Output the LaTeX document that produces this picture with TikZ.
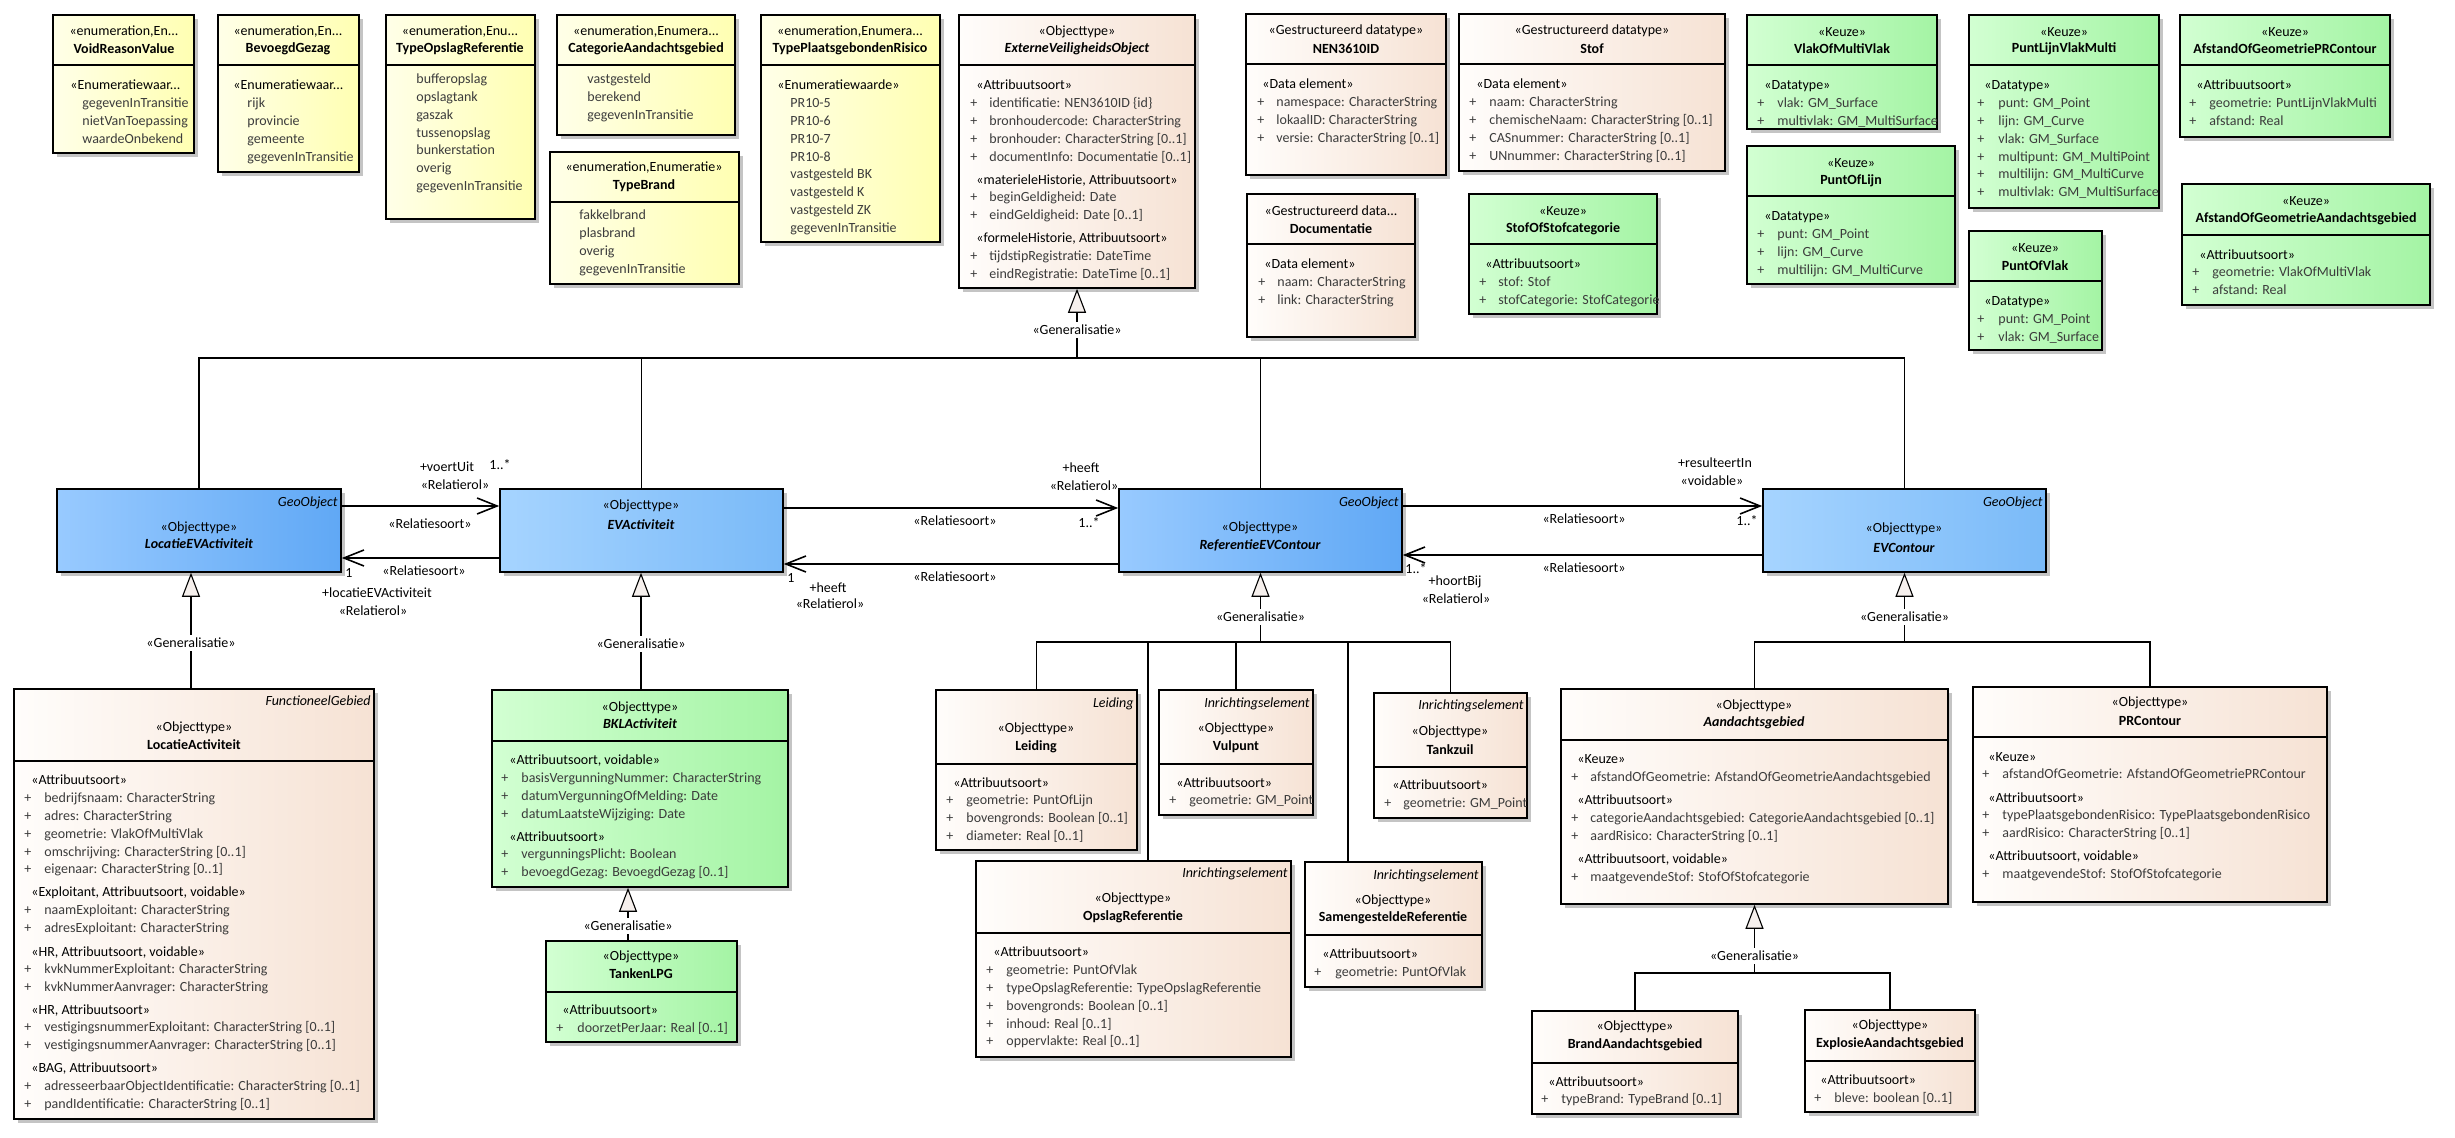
\documentclass[tikz,border=0pt]{standalone}
\usepackage{fontspec}
\setmainfont{Carlito}
\usetikzlibrary{arrows.meta,fit,shadows}
\definecolor{enumL}{RGB}{255,255,232}
\definecolor{enumR}{RGB}{255,255,178}
\definecolor{dataL}{RGB}{255,253,251}
\definecolor{dataR}{RGB}{246,226,212}
\definecolor{keuzeL}{RGB}{210,255,210}
\definecolor{keuzeR}{RGB}{164,244,164}
\definecolor{geoL}{RGB}{152,202,255}
\definecolor{geoR}{RGB}{96,168,245}
\definecolor{geoliteL}{RGB}{166,212,255}
\definecolor{geoliteR}{RGB}{122,186,248}
\definecolor{shadowgray}{RGB}{196,196,196}
\definecolor{genfill}{RGB}{246,240,237}
\definecolor{attrgray}{RGB}{60,60,60}

% box with header and body compartment: name, x1, y1, x2, y2, divider y, style
\newcommand{\classbox}[7]{%
  \node[#7, fit={(#2,#3) (#4,#5)}] (#1) {};
  \draw[divline] (#1.west |- #2,#6) -- (#1.east |- #2,#6);}
% attributes with a plus: name, x of +, x of text, first y, list
\newcommand{\attrs}[5]{%
  \foreach \m [count=\k from 0] in {#5}{
    \node[attr, anchor=mid west] (#1p\k) at (#2,#4+17.8*\k) {+};
    \node[attr, anchor=mid west] (#1t\k) at (#3,#4+17.8*\k) {\m};
  }}
% enumeration values: name, x, first y, list
\newcommand{\items}[4]{%
  \foreach \m [count=\k from 0] in {#4}
    \node[attr, anchor=mid west] (#1i\k) at (#2,#3+17.8*\k) {\m};}

\begin{document}
\begin{tikzpicture}[x=0.5pt, y=-0.5pt,
    box/.style={draw=black, line width=0.8pt, inner sep=0pt,
      drop shadow={shadow xshift=1.8pt, shadow yshift=-1.8pt, fill=shadowgray, opacity=1}},
    enumbox/.style={box, left color=enumL, right color=enumR},
    databox/.style={box, left color=dataL, right color=dataR},
    keuzebox/.style={box, left color=keuzeL, right color=keuzeR},
    geobox/.style={box, left color=geoL, right color=geoR},
    geolight/.style={box, left color=geoliteL, right color=geoliteR},
    divline/.style={line width=0.8pt},
    txt/.style={inner sep=0pt, font={\fontsize{7}{8}\selectfont}},
    stereo/.style={txt},
    attr/.style={txt, text=attrgray},
    cname/.style={txt, font={\fontsize{7}{8}\selectfont\bfseries}},
    aname/.style={txt, font={\fontsize{7}{8}\selectfont\bfseries\itshape}},
    corner/.style={txt, font={\fontsize{7}{8}\selectfont\itshape}, anchor=mid east},
    lbl/.style={txt},
    genlabel/.style={txt, fill=white, inner sep=1.5pt},
    genline/.style={line width=0.55pt},
    gen/.style={genline, -{Triangle[length=12pt, width=9pt, fill=genfill]}},
    assoc/.style={line width=0.8pt, -{Straight Barb[length=10pt, width=8pt]}}]
  \fill[white] (0,0) rectangle (2455,1138);
  \useasboundingbox (0,0) rectangle (2455,1138);

  % enumerations
  \classbox{voidreason}{53}{15}{194}{153}{65}{enumbox}
  \node[stereo] (voidreason-st) at (124,32) {«enumeration,En...};
  \node[cname] (voidreason-nm) at (124,49) {VoidReasonValue};
  \node[stereo, anchor=mid west] (voidreason-hd) at (70,85) {«Enumeratiewaar...};
  \items{voidreason}{82}{103}{gegevenInTransitie,nietVanToepassing,waardeOnbekend}

  \classbox{bevoegd}{218}{15}{359}{172}{65}{enumbox}
  \node[stereo] (bevoegd-st) at (288,32) {«enumeration,En...};
  \node[cname] (bevoegd-nm) at (288,49) {BevoegdGezag};
  \node[stereo, anchor=mid west] (bevoegd-hd) at (233,85) {«Enumeratiewaar...};
  \items{bevoegd}{247}{103}{rijk,provincie,gemeente,gegevenInTransitie}

  \classbox{typeopslag}{386}{15}{535}{219}{65}{enumbox}
  \node[stereo] (typeopslag-st) at (460,32) {«enumeration,Enu...};
  \node[cname] (typeopslag-nm) at (460,49) {TypeOpslagReferentie};
  \items{typeopslag}{416}{79}{bufferopslag,opslagtank,gaszak,tussenopslag,bunkerstation,overig,gegevenInTransitie}

  \classbox{catag}{557}{15}{735}{135}{65}{enumbox}
  \node[stereo] (catag-st) at (646,32) {«enumeration,Enumera...};
  \node[cname] (catag-nm) at (646,49) {CategorieAandachtsgebied};
  \items{catag}{587}{79}{vastgesteld,berekend,gegevenInTransitie}

  \classbox{typebrand}{550}{152}{739}{284}{202}{enumbox}
  \node[stereo] (typebrand-st) at (644,168) {«enumeration,Enumeratie»};
  \node[cname] (typebrand-nm) at (644,186) {TypeBrand};
  \items{typebrand}{579}{215}{fakkelbrand,plasbrand,overig,gegevenInTransitie}

  \classbox{typepr}{761}{15}{940}{242}{65}{enumbox}
  \node[stereo] (typepr-st) at (850,32) {«enumeration,Enumera...};
  \node[cname] (typepr-nm) at (850,49) {TypePlaatsgebondenRisico};
  \node[stereo, anchor=mid west] (typepr-hd) at (777,85) {«Enumeratiewaarde»};
  \items{typepr}{790}{103}{PR10-5,PR10-6,PR10-7,PR10-8,vastgesteld BK,vastgesteld K,vastgesteld ZK,gegevenInTransitie}

  % data types
  \classbox{evo}{959}{15}{1195}{288}{65}{databox}
  \node[stereo] (evo-st) at (1077,32) {«Objecttype»};
  \node[aname] (evo-nm) at (1077,49) {ExterneVeiligheidsObject};
  \node[stereo, anchor=mid west] (evo-h1) at (976,85) {«Attribuutsoort»};
  \attrs{evoa}{970}{989}{103}{identificatie: NEN3610ID \{id\},bronhoudercode: CharacterString,bronhouder: CharacterString [0..1],documentInfo: Documentatie [0..1]}
  \node[stereo, anchor=mid west] (evo-h2) at (976,180) {«materieleHistorie, Attribuutsoort»};
  \attrs{evob}{970}{989}{197}{beginGeldigheid: Date,eindGeldigheid: Date [0..1]}
  \node[stereo, anchor=mid west] (evo-h3) at (976,238) {«formeleHistorie, Attribuutsoort»};
  \attrs{evoc}{970}{989}{256}{tijdstipRegistratie: DateTime,eindRegistratie: DateTime [0..1]}

  \classbox{nen}{1246}{14}{1446}{175}{64}{databox}
  \node[stereo] (nen-st) at (1346,31) {«Gestructureerd datatype»};
  \node[cname] (nen-nm) at (1346,49) {NEN3610ID};
  \node[stereo, anchor=mid west] (nen-hd) at (1262,84) {«Data element»};
  \attrs{nen}{1257}{1276}{102}{namespace: CharacterString,lokaalID: CharacterString,versie: CharacterString [0..1]}

  \classbox{docu}{1247}{194}{1415}{337}{244}{databox}
  \node[stereo] (docu-st) at (1331,211) {«Gestructureerd data...};
  \node[cname] (docu-nm) at (1331,229) {Documentatie};
  \node[stereo, anchor=mid west] (docu-hd) at (1264,264) {«Data element»};
  \attrs{docu}{1258}{1277}{282}{naam: CharacterString,link: CharacterString}

  \classbox{stof}{1459}{14}{1725}{171}{64}{databox}
  \node[stereo] (stof-st) at (1592,31) {«Gestructureerd datatype»};
  \node[cname] (stof-nm) at (1592,49) {Stof};
  \node[stereo, anchor=mid west] (stof-hd) at (1476,84) {«Data element»};
  \attrs{stof}{1469}{1489}{102}{naam: CharacterString,chemischeNaam: CharacterString [0..1],CASnummer: CharacterString [0..1],UNnummer: CharacterString [0..1]}

  % keuze types
  \classbox{stofcat}{1469}{194}{1657}{314}{244}{keuzebox}
  \node[stereo] (stofcat-st) at (1563,211) {«Keuze»};
  \node[cname] (stofcat-nm) at (1563,229) {StofOfStofcategorie};
  \node[stereo, anchor=mid west] (stofcat-hd) at (1485,264) {«Attribuutsoort»};
  \attrs{stofcat}{1479}{1498}{282}{stof: Stof,stofCategorie: StofCategorie}

  \classbox{vlakmv}{1747}{15}{1937}{129}{65}{keuzebox}
  \node[stereo] (vlakmv-st) at (1842,32) {«Keuze»};
  \node[cname] (vlakmv-nm) at (1842,49) {VlakOfMultiVlak};
  \node[stereo, anchor=mid west] (vlakmv-hd) at (1764,85) {«Datatype»};
  \attrs{vlakmv}{1757}{1777}{103}{vlak: GM\_Surface,multivlak: GM\_MultiSurface}

  \classbox{puntlijn}{1747}{146}{1955}{284}{196}{keuzebox}
  \node[stereo] (puntlijn-st) at (1851,163) {«Keuze»};
  \node[cname] (puntlijn-nm) at (1851,181) {PuntOfLijn};
  \node[stereo, anchor=mid west] (puntlijn-hd) at (1764,216) {«Datatype»};
  \attrs{puntlijn}{1757}{1777}{234}{punt: GM\_Point,lijn: GM\_Curve,multilijn: GM\_MultiCurve}

  \classbox{plvm}{1969}{15}{2159}{208}{65}{keuzebox}
  \node[stereo] (plvm-st) at (2064,32) {«Keuze»};
  \node[cname] (plvm-nm) at (2064,49) {PuntLijnVlakMulti};
  \node[stereo, anchor=mid west] (plvm-hd) at (1984,85) {«Datatype»};
  \attrs{plvm}{1977}{1998}{103}{punt: GM\_Point,lijn: GM\_Curve,vlak: GM\_Surface,multipunt: GM\_MultiPoint,multilijn: GM\_MultiCurve,multivlak: GM\_MultiSurface}

  \classbox{puntvlak}{1969}{231}{2102}{350}{281}{keuzebox}
  \node[stereo] (puntvlak-st) at (2035,248) {«Keuze»};
  \node[cname] (puntvlak-nm) at (2035,266) {PuntOfVlak};
  \node[stereo, anchor=mid west] (puntvlak-hd) at (1984,301) {«Datatype»};
  \attrs{puntvlak}{1977}{1998}{319}{punt: GM\_Point,vlak: GM\_Surface}

  \classbox{afstpr}{2180}{15}{2390}{137}{65}{keuzebox}
  \node[stereo] (afstpr-st) at (2285,32) {«Keuze»};
  \node[cname] (afstpr-nm) at (2285,49) {AfstandOfGeometriePRContour};
  \node[stereo, anchor=mid west] (afstpr-hd) at (2196,85) {«Attribuutsoort»};
  \attrs{afstpr}{2189}{2209}{103}{geometrie: PuntLijnVlakMulti,afstand: Real}

  \classbox{afstag}{2182}{184}{2430}{305}{235}{keuzebox}
  \node[stereo] (afstag-st) at (2306,201) {«Keuze»};
  \node[cname] (afstag-nm) at (2306,219) {AfstandOfGeometrieAandachtsgebied};
  \node[stereo, anchor=mid west] (afstag-hd) at (2199,255) {«Attribuutsoort»};
  \attrs{afstag}{2192}{2212}{272}{geometrie: VlakOfMultiVlak,afstand: Real}

  % geo objects
  \node[geobox, fit={(57,489) (341,572)}] (locev) {};
  \node[corner] (locev-geo) at (338,502) {GeoObject};
  \node[stereo] (locev-st) at (199,528) {«Objecttype»};
  \node[aname] (locev-nm) at (199,544) {LocatieEVActiviteit};

  \node[geolight, fit={(500,489) (783,572)}] (evact) {};
  \node[stereo] (evact-st) at (641,506) {«Objecttype»};
  \node[aname] (evact-nm) at (641,525) {EVActiviteit};

  \node[geobox, fit={(1119,489) (1402,572)}] (refevc) {};
  \node[corner] (refevc-geo) at (1399,502) {GeoObject};
  \node[stereo] (refevc-st) at (1260,528) {«Objecttype»};
  \node[aname] (refevc-nm) at (1260,545) {ReferentieEVContour};

  \node[geolight, fit={(1763,489) (2046,572)}] (evcon) {};
  \node[corner] (evcon-geo) at (2043,502) {GeoObject};
  \node[stereo] (evcon-st) at (1904,529) {«Objecttype»};
  \node[aname] (evcon-nm) at (1904,548) {EVContour};

  % LocatieActiviteit
  \classbox{locact}{14}{689}{374}{1119}{761}{databox}
  \node[corner] (locact-fg) at (371,701) {FunctioneelGebied};
  \node[stereo] (locact-st) at (194,728) {«Objecttype»};
  \node[cname] (locact-nm) at (194,745) {LocatieActiviteit};
  \node[stereo, anchor=mid west] (locact-h1) at (31,780) {«Attribuutsoort»};
  \attrs{locacta}{24}{44}{798}{bedrijfsnaam: CharacterString,adres: CharacterString,geometrie: VlakOfMultiVlak,omschrijving: CharacterString [0..1],eigenaar: CharacterString [0..1]}
  \node[stereo, anchor=mid west] (locact-h2) at (31,892) {«Exploitant, Attribuutsoort, voidable»};
  \attrs{locactb}{24}{44}{910}{naamExploitant: CharacterString,adresExploitant: CharacterString}
  \node[stereo, anchor=mid west] (locact-h3) at (31,952) {«HR, Attribuutsoort, voidable»};
  \attrs{locactc}{24}{44}{969}{kvkNummerExploitant: CharacterString,kvkNummerAanvrager: CharacterString}
  \node[stereo, anchor=mid west] (locact-h4) at (31,1010) {«HR, Attribuutsoort»};
  \attrs{locactd}{24}{44}{1027}{vestigingsnummerExploitant: CharacterString [0..1],vestigingsnummerAanvrager: CharacterString [0..1]}
  \node[stereo, anchor=mid west] (locact-h5) at (31,1068) {«BAG, Attribuutsoort»};
  \attrs{locacte}{24}{44}{1086}{adresseerbaarObjectIdentificatie: CharacterString [0..1],pandIdentificatie: CharacterString [0..1]}

  % BKLActiviteit and TankenLPG
  \classbox{bkl}{492}{690}{788}{887}{741}{keuzebox}
  \node[stereo] (bkl-st) at (640,708) {«Objecttype»};
  \node[aname] (bkl-nm) at (640,724) {BKLActiviteit};
  \node[stereo, anchor=mid west] (bkl-h1) at (509,760) {«Attribuutsoort, voidable»};
  \attrs{bkla}{501}{521}{778}{basisVergunningNummer: CharacterString,datumVergunningOfMelding: Date,datumLaatsteWijziging: Date}
  \node[stereo, anchor=mid west] (bkl-h2) at (509,837) {«Attribuutsoort»};
  \attrs{bklb}{501}{521}{854}{vergunningsPlicht: Boolean,bevoegdGezag: BevoegdGezag [0..1]}

  \classbox{tanken}{546}{941}{737}{1042}{992}{keuzebox}
  \node[stereo] (tanken-st) at (641,957) {«Objecttype»};
  \node[cname] (tanken-nm) at (641,974) {TankenLPG};
  \node[stereo, anchor=mid west] (tanken-hd) at (562,1010) {«Attribuutsoort»};
  \attrs{tanken}{556}{577}{1028}{doorzetPerJaar: Real [0..1]}

  % subtypes of ReferentieEVContour
  \classbox{leiding}{936}{690}{1137}{850}{764}{databox}
  \node[corner] (leiding-cn) at (1134,703) {Leiding};
  \node[stereo] (leiding-st) at (1036,729) {«Objecttype»};
  \node[cname] (leiding-nm) at (1036,747) {Leiding};
  \node[stereo, anchor=mid west] (leiding-hd) at (953,783) {«Attribuutsoort»};
  \attrs{leiding}{946}{966}{800}{geometrie: PuntOfLijn,bovengronds: Boolean [0..1],diameter: Real [0..1]}

  \classbox{vulpunt}{1159}{690}{1313}{815}{764}{databox}
  \node[corner] (vulpunt-cn) at (1310,703) {Inrichtingselement};
  \node[stereo] (vulpunt-st) at (1236,729) {«Objecttype»};
  \node[cname] (vulpunt-nm) at (1236,747) {Vulpunt};
  \node[stereo, anchor=mid west] (vulpunt-hd) at (1176,783) {«Attribuutsoort»};
  \attrs{vulpunt}{1169}{1189}{800}{geometrie: GM\_Point}

  \classbox{tankzuil}{1374}{693}{1527}{818}{767}{databox}
  \node[corner] (tankzuil-cn) at (1524,705) {Inrichtingselement};
  \node[stereo] (tankzuil-st) at (1450,732) {«Objecttype»};
  \node[cname] (tankzuil-nm) at (1450,750) {Tankzuil};
  \node[stereo, anchor=mid west] (tankzuil-hd) at (1392,785) {«Attribuutsoort»};
  \attrs{tankzuil}{1384}{1403}{803}{geometrie: GM\_Point}

  \classbox{opslag}{976}{861}{1291}{1057}{933}{databox}
  \node[corner] (opslag-cn) at (1288,873) {Inrichtingselement};
  \node[stereo] (opslag-st) at (1133,899) {«Objecttype»};
  \node[cname] (opslag-nm) at (1133,917) {OpslagReferentie};
  \node[stereo, anchor=mid west] (opslag-hd) at (993,952) {«Attribuutsoort»};
  \attrs{opslag}{986}{1006}{970}{geometrie: PuntOfVlak,typeOpslagReferentie: TypeOpslagReferentie,bovengronds: Boolean [0..1],inhoud: Real [0..1],oppervlakte: Real [0..1]}

  \classbox{samen}{1305}{862}{1482}{987}{935}{databox}
  \node[corner] (samen-cn) at (1479,875) {Inrichtingselement};
  \node[stereo] (samen-st) at (1393,901) {«Objecttype»};
  \node[cname] (samen-nm) at (1393,918) {SamengesteldeReferentie};
  \node[stereo, anchor=mid west] (samen-hd) at (1322,954) {«Attribuutsoort»};
  \attrs{samen}{1314}{1335}{972}{geometrie: PuntOfVlak}

  % subtypes of EVContour
  \classbox{aandacht}{1561}{689}{1948}{904}{740}{databox}
  \node[stereo] (aandacht-st) at (1754,706) {«Objecttype»};
  \node[aname] (aandacht-nm) at (1754,723) {Aandachtsgebied};
  \node[stereo, anchor=mid west] (aandacht-h1) at (1577,759) {«Keuze»};
  \attrs{aandachta}{1571}{1590}{777}{afstandOfGeometrie: AfstandOfGeometrieAandachtsgebied}
  \node[stereo, anchor=mid west] (aandacht-h2) at (1577,800) {«Attribuutsoort»};
  \attrs{aandachtb}{1571}{1590}{818}{categorieAandachtsgebied: CategorieAandachtsgebied [0..1],aardRisico: CharacterString [0..1]}
  \node[stereo, anchor=mid west] (aandacht-h3) at (1577,859) {«Attribuutsoort, voidable»};
  \attrs{aandachtc}{1571}{1590}{877}{maatgevendeStof: StofOfStofcategorie}

  \classbox{prcontour}{1973}{687}{2327}{902}{737}{databox}
  \node[stereo] (prcontour-st) at (2150,703) {«Objecttype»};
  \node[cname] (prcontour-nm) at (2150,721) {PRContour};
  \node[stereo, anchor=mid west] (prcontour-h1) at (1988,757) {«Keuze»};
  \attrs{prcontoura}{1982}{2002}{774}{afstandOfGeometrie: AfstandOfGeometriePRContour}
  \node[stereo, anchor=mid west] (prcontour-h2) at (1988,798) {«Attribuutsoort»};
  \attrs{prcontourb}{1982}{2002}{815}{typePlaatsgebondenRisico: TypePlaatsgebondenRisico,aardRisico: CharacterString [0..1]}
  \node[stereo, anchor=mid west] (prcontour-h3) at (1988,856) {«Attribuutsoort, voidable»};
  \attrs{prcontourc}{1982}{2002}{874}{maatgevendeStof: StofOfStofcategorie}

  \classbox{brand}{1532}{1011}{1738}{1114}{1063}{databox}
  \node[stereo] (brand-st) at (1635,1027) {«Objecttype»};
  \node[cname] (brand-nm) at (1635,1045) {BrandAandachtsgebied};
  \node[stereo, anchor=mid west] (brand-hd) at (1548,1082) {«Attribuutsoort»};
  \attrs{brand}{1541}{1561}{1099}{typeBrand: TypeBrand [0..1]}

  \classbox{explosie}{1805}{1010}{1975}{1112}{1061}{databox}
  \node[stereo] (explosie-st) at (1890,1026) {«Objecttype»};
  \node[cname] (explosie-nm) at (1890,1044) {ExplosieAandachtsgebied};
  \node[stereo, anchor=mid west] (explosie-hd) at (1820,1080) {«Attribuutsoort»};
  \attrs{explosie}{1814}{1834}{1098}{bleve: boolean [0..1]}

  % generalisations
  \coordinate (evojoin) at (evo.south |- 0,358);
  \draw[gen] (evojoin) -- (evo.south);
  \draw[genline] (evojoin) -| (locev.north);
  \draw[genline] (evojoin) -| (evact.north);
  \draw[genline] (evojoin) -| (refevc.north);
  \draw[genline] (evojoin) -| (evcon.north);
  \node[genlabel] (evogen) at (evo.south |- 0,330) {«Generalisatie»};

  \draw[gen] (locact.north -| 191,0) -- (locev.south -| 191,0);
  \node[genlabel] (locevgen) at (191,643) {«Generalisatie»};
  \draw[gen] (bkl.north -| 641,0) -- (evact.south -| 641,0);
  \node[genlabel] (evactgen) at (641,644) {«Generalisatie»};
  \draw[gen] (tanken.north -| 628,0) -- (bkl.south -| 628,0);
  \node[genlabel] (bklgen) at (628,926) {«Generalisatie»};

  \coordinate (refjoin) at (refevc.south |- 0,642);
  \draw[gen] (refjoin) -- (refevc.south);
  \draw[genline] (refjoin) -| (leiding.north);
  \draw[genline] (refjoin) -| (opslag.north -| 1148,0);
  \draw[genline] (refjoin) -| (vulpunt.north);
  \draw[genline] (refjoin) -| (samen.north -| 1348,0);
  \draw[genline] (refjoin) -| (tankzuil.north);
  \node[genlabel] (refgen) at (refevc.south |- 0,617) {«Generalisatie»};

  \coordinate (evcjoin) at (evcon.south |- 0,642);
  \draw[gen] (evcjoin) -- (evcon.south);
  \draw[genline] (evcjoin) -| (aandacht.north);
  \draw[genline] (evcjoin) -| (prcontour.north);
  \node[genlabel] (evcgen) at (evcon.south |- 0,617) {«Generalisatie»};

  \coordinate (aanjoin) at (aandacht.south |- 0,973);
  \draw[gen] (aanjoin) -- (aandacht.south);
  \draw[genline] (aanjoin) -| (brand.north);
  \draw[genline] (aanjoin) -| (explosie.north);
  \node[genlabel] (aangen) at (aandacht.south |- 0,956) {«Generalisatie»};

  % associations
  \draw[assoc] (locev.east |- 0,506) -- (evact.west |- 0,506);
  \node[lbl] (a1rol) at (447,467) {+voertUit};
  \node[lbl] (a1mul) at (500,465) {1..*};
  \node[lbl] (a1st) at (455,485) {«Relatierol»};
  \node[lbl] (a1srt) at (430,524) {«Relatiesoort»};

  \draw[assoc] (evact.west |- 0,558) -- (locev.east |- 0,558);
  \node[lbl] (a2mul) at (349,573) {1};
  \node[lbl] (a2srt) at (424,571) {«Relatiesoort»};
  \node[lbl] (a2rol) at (377,593) {+locatieEVActiviteit};
  \node[lbl] (a2st) at (373,611) {«Relatierol»};

  \draw[assoc] (evact.east |- 0,508) -- (refevc.west |- 0,508);
  \node[lbl] (a3rol) at (1081,468) {+heeft};
  \node[lbl] (a3st) at (1084,486) {«Relatierol»};
  \node[lbl] (a3srt) at (955,521) {«Relatiesoort»};
  \node[lbl] (a3mul) at (1089,523) {1..*};

  \draw[assoc] (refevc.west |- 0,564) -- (evact.east |- 0,564);
  \node[lbl] (a4mul) at (791,578) {1};
  \node[lbl] (a4rol) at (828,588) {+heeft};
  \node[lbl] (a4st) at (830,604) {«Relatierol»};
  \node[lbl] (a4srt) at (955,577) {«Relatiesoort»};

  \draw[assoc] (refevc.east |- 0,506) -- (evcon.west |- 0,506);
  \node[lbl] (a5rol) at (1715,463) {+resulteertIn};
  \node[lbl] (a5st) at (1712,481) {«voidable»};
  \node[lbl] (a5srt) at (1584,519) {«Relatiesoort»};
  \node[lbl] (a5mul) at (1747,521) {1..*};

  \draw[assoc] (evcon.west |- 0,555) -- (refevc.east |- 0,555);
  \node[lbl] (a6mul) at (1416,569) {1..*};
  \node[lbl] (a6rol) at (1455,582) {+hoortBij};
  \node[lbl] (a6st) at (1456,599) {«Relatierol»};
  \node[lbl] (a6srt) at (1584,568) {«Relatiesoort»};
\end{tikzpicture}
\end{document}
